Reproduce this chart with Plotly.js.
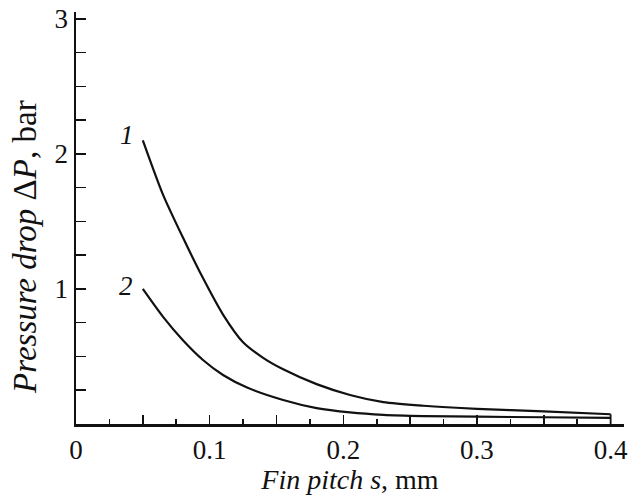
<!DOCTYPE html>
<html><head><meta charset="utf-8">
<script src="https://cdn.plot.ly/plotly-3.0.1.min.js"></script>
<style>body{margin:0;background:#fff;} #chart{width:630px;height:495px;}</style>
</head><body><div id="chart"></div>
<script>
// Curve 1
const pitch1 = [0.05, 0.065, 0.08, 0.095, 0.11, 0.125, 0.14, 0.155, 0.18, 0.205, 0.23, 0.26, 0.30, 0.35, 0.40];
const drop1  = [2.10, 1.70, 1.38, 1.08, 0.81, 0.605, 0.49, 0.405, 0.295, 0.215, 0.162, 0.135, 0.112, 0.093, 0.072];
// Curve 2
const pitch2 = [0.05, 0.065, 0.08, 0.095, 0.11, 0.128, 0.155, 0.18, 0.205, 0.23, 0.26, 0.30, 0.35, 0.40];
const drop2  = [1.00, 0.795, 0.62, 0.474, 0.363, 0.27, 0.178, 0.118, 0.086, 0.068, 0.059, 0.054, 0.05, 0.045];
const curveLabels = ['1', '2'];

const xMajorVals = [0, 0.05, 0.1, 0.15, 0.2, 0.25, 0.3, 0.35, 0.4];
const xMajorText = ['0', '', '0.1', '', '0.2', '', '0.3', '', '0.4'];
const xMinorVals = [0.025, 0.075, 0.125, 0.175, 0.225, 0.275, 0.325, 0.375];
const yTickVals = [0.25, 0.5, 0.75, 1, 1.25, 1.5, 1.75, 2, 2.25, 2.5, 2.75, 3];
const yTickText = ['', '', '', '1', '', '', '', '2', '', '', '', '3'];

const FONT = '"Liberation Serif", "Times New Roman", serif';
const lineStyle = {color: '#111', width: 2.2, shape: 'spline', smoothing: 0.7};

const n1 = pitch1.length - 1;
const traces = [
  {x: pitch1, y: drop1, mode: 'lines', line: lineStyle, hoverinfo: 'skip'},
  {x: pitch2, y: drop2, mode: 'lines', line: lineStyle, hoverinfo: 'skip'},
  {x: [pitch1[n1], pitch1[n1]], y: [0, drop1[n1]], mode: 'lines', line: {color: '#111', width: 1.8}, hoverinfo: 'skip'}
];

const layout = {
  width: 630, height: 495,
  margin: {l: 76, r: 6, t: 12, b: 71},
  paper_bgcolor: '#fff', plot_bgcolor: '#fff',
  showlegend: false,
  font: {family: FONT, color: '#111'},
  xaxis: {
    range: [0, 0.41], showgrid: false, zeroline: false,
    showline: true, linewidth: 2.5, linecolor: '#111',
    ticks: 'inside', ticklen: 9, tickwidth: 1.6, tickcolor: '#111',
    tickvals: xMajorVals, ticktext: xMajorText,
    tickfont: {size: 27, family: FONT},
    minor: {tickvals: xMinorVals, ticks: 'inside', ticklen: 5.5, tickwidth: 1.6, tickcolor: '#111'},
    title: {text: '<i>Fin pitch s</i>, mm', font: {size: 28, family: FONT}, standoff: 4}
  },
  yaxis: {
    range: [0, 3.05], showgrid: false, zeroline: false,
    showline: true, linewidth: 2.5, linecolor: '#111',
    ticks: 'inside', ticklen: 10, tickwidth: 1.6, tickcolor: '#111',
    tickvals: yTickVals, ticktext: yTickText,
    tickfont: {size: 27, family: FONT}
  },
  annotations: [
    {xref: 'paper', yref: 'paper', x: -0.093, y: 0.43, text: '<i>Pressure drop</i> Δ<i>P</i>, bar',
     textangle: -90, showarrow: false, font: {size: 33, family: FONT, color: '#111'}, xanchor: 'center', yanchor: 'middle'},
    {x: 0.0385, y: 2.14, text: '<i>' + curveLabels[0] + '</i>', showarrow: false,
     font: {size: 27, family: FONT, color: '#111'}},
    {x: 0.0375, y: 1.02, text: '<i>' + curveLabels[1] + '</i>', showarrow: false,
     font: {size: 27, family: FONT, color: '#111'}}
  ]
};

Plotly.newPlot('chart', traces, layout, {staticPlot: true, displayModeBar: false});
</script>
</body></html>
